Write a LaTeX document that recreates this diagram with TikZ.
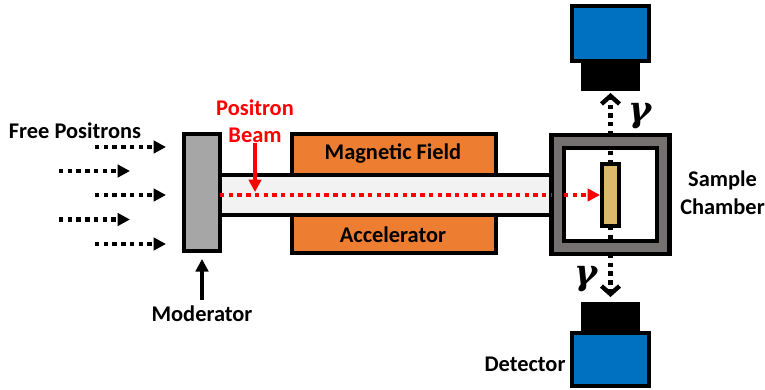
\documentclass[tikz,border=0pt]{standalone}
\usepackage{xcolor}
\usepackage{fontspec}
\setmainfont{Carlito}
\newfontfamily\gamfont{DejaVu Serif}
\usetikzlibrary{arrows.meta}
\definecolor{modgray}{RGB}{166, 166, 166}
\definecolor{tubegray}{RGB}{242, 242, 242}
\definecolor{wallgray}{RGB}{118, 113, 113}
\definecolor{fieldorange}{RGB}{237, 125, 49}
\definecolor{sampletan}{RGB}{222, 184, 107}
\definecolor{detblue}{RGB}{0, 112, 192}
\definecolor{beamred}{RGB}{255, 0, 0}

\begin{document}
\begin{tikzpicture}[x=1pt, y=-1pt,
  part/.style={rectangle, draw=black, line width=4.4pt, inner sep=0pt, outer sep=0pt},
  lbl/.style={font=\fontsize{22.4pt}{27.5pt}\selectfont\bfseries, align=center, inner sep=0pt},
  dotarr/.style={-{Triangle[length=12.5pt, width=12.5pt]}, line width=4.4pt, dash pattern=on 4.4pt off 4.3pt},
  beamdot/.style={line width=4.4pt, color=beamred, dash pattern=on 4.4pt off 4.3pt},
  gamarr/.style={line width=4.4pt, dash pattern=on 4.4pt off 4.3pt},
  solidarr/.style={-{Triangle[length=12.5pt, width=12.5pt]}, line width=3.8pt},
  gam/.style={font=\fontsize{35pt}{35pt}\selectfont\gamfont\bfseries\itshape, inner sep=0pt}
]
\useasboundingbox (0,0) rectangle (765,389);
\node[part, fill=tubegray, minimum width=331pt, minimum height=40pt] at (385.5, 195) (tube) {};
\node[part, fill=fieldorange, minimum width=204pt, minimum height=41pt] at (394, 154.5) (field) {};
\node[part, fill=fieldorange, minimum width=204pt, minimum height=38pt] at (394, 234) (accel) {};
\node[part, fill=modgray, minimum width=36pt, minimum height=117pt] at (202, 192.5) (mod) {};
\node[part, fill=wallgray, minimum width=118pt, minimum height=119pt] at (610.5, 194.5) (chamber) {};
\node[part, fill=white, minimum width=93pt, minimum height=93pt] at (610.5, 194.5) (inner) {};
\node[part, fill=sampletan, minimum width=17pt, minimum height=62pt] at (610.5, 195) (sample) {};
% detectors
\node[part, fill=detblue, minimum width=77pt, minimum height=55pt] at (610.5, 33.5) (dettop) {};
\node[rectangle, fill=black, minimum width=59pt, minimum height=30pt, inner sep=0pt, outer sep=0pt] at (610.5, 76) (headtop) {};
\node[part, fill=detblue, minimum width=77pt, minimum height=53pt] at (610.5, 359.5) (detbot) {};
\node[rectangle, fill=black, minimum width=59pt, minimum height=30pt, inner sep=0pt, outer sep=0pt] at (610.5, 317) (headbot) {};
% free ends of the arrows
\coordinate (fpa) at (95, 147);
\coordinate (fpb) at (59, 171);
\coordinate (fpc) at (95, 195);
\coordinate (fpd) at (59, 219.5);
\coordinate (fpe) at (95, 244);
\coordinate (fpat) at (166, 147);
\coordinate (fpbt) at (130, 171);
\coordinate (fpct) at (166, 195);
\coordinate (fpdt) at (130, 219.5);
\coordinate (fpet) at (166, 244);
\draw[dotarr] (fpa) -- (fpat);
\draw[dotarr] (fpb) -- (fpbt);
\draw[dotarr] (fpc) -- (fpct);
\draw[dotarr] (fpd) -- (fpdt);
\draw[dotarr] (fpe) -- (fpet);
% beam
\draw[beamdot] (mod.east |- tube.center) -- (chamber.west |- tube.center);
\draw[beamdot, -{Triangle[length=12.5pt, width=12.5pt]}, shorten >=2pt] (inner.west |- tube.center) -- (sample.west |- tube.center);
% gamma rays
\draw[gamarr] (sample.north) -- (inner.north);
\draw[gamarr, -{Straight Barb[length=8pt, width=18pt]}, shorten >=2pt] (chamber.north) -- (headtop.south);
\draw[gamarr] (sample.south) -- (inner.south);
\draw[gamarr, -{Straight Barb[length=8pt, width=18pt]}, shorten >=5pt] (chamber.south) -- (headbot.north);
% labels
\node[lbl] at (75, 131) (free) {Free Positrons};
\node[lbl, text=beamred] at (255, 121) (beam) {Positron\\Beam};
\node[lbl] at (202, 314) (modlbl) {Moderator};
\node[lbl] at (393, 154) (fieldlbl) {Magnetic Field};
\node[lbl] at (393, 235) (accellbl) {Accelerator};
\node[lbl] at (722.5, 192.5) (chamberlbl) {Sample\\Chamber};
\node[lbl] at (525, 364) (detlbl) {Detector};
\node[gam] at (640, 116.5) (gamtop) {γ};
\node[gam] at (586, 279) (gambot) {γ};
\draw[solidarr, color=beamred, shorten >=3pt] (beam.south) -- (tube.center -| beam.south);
\draw[solidarr, shorten >=8pt] (modlbl.north) ++(0,-6) -- (mod.south);
\end{tikzpicture}
\end{document}
